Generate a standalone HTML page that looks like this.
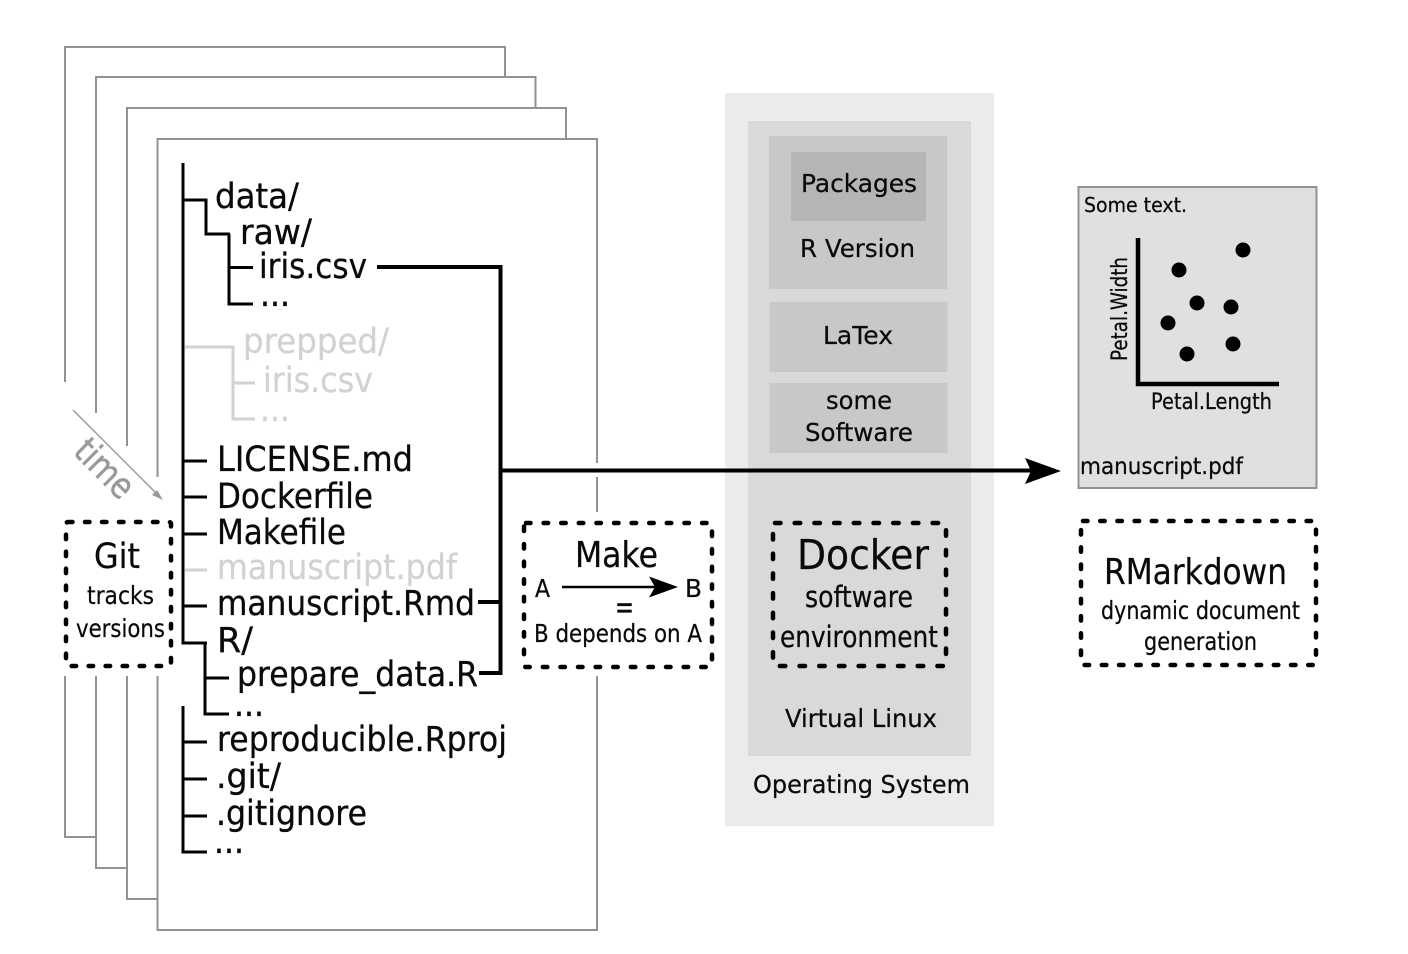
<!DOCTYPE html>
<html lang="en">
<head>
<meta charset="utf-8">
<title>Reproducible workflow diagram</title>
<style>
html,body{margin:0;padding:0;background:#fff;}
svg{display:block;}
text{font-family:"DejaVu Sans","Liberation Sans",sans-serif;fill:#0a0a0a;stroke:#0a0a0a;stroke-width:.25px;}
.t{font-size:35px;stroke-width:.3px;}
.g{font-size:35px;fill:#d2d2d2;stroke:#d2d2d2;stroke-width:.3px;}
.m{font-size:25px;}
.s{font-size:22px;}
</style>
</head>
<body>
<svg xmlns="http://www.w3.org/2000/svg" width="1408" height="954" viewBox="0 0 1408 954">
<rect width="1408" height="954" fill="#fff"/>

<!-- stacked pages -->
<g fill="none" stroke="#929292" stroke-width="2">
<path d="M65 382V47H505V77"/>
<path d="M65 676V837H96"/>
<path d="M96 413V77H535.500V108"/>
<path d="M96 676V868H127"/>
<path d="M127 446V108H566V139"/>
<path d="M127 676V899H157.500"/>
<path d="M157.500 477V139H597V463"/>
<path d="M597 477V512"/>
<path d="M157.500 676V930H597V676"/>
</g>

<!-- time arrow -->
<path d="M73 410L161 498" stroke="#999" stroke-width="1.500" fill="none"/>
<path d="M163 500L152 495L157 490Z" fill="#999"/>
<text transform="translate(72 453) rotate(45)" font-size="36" style="fill:#999;stroke:#999;stroke-width:.5px" textLength="68" lengthAdjust="spacingAndGlyphs">time</text>

<!-- tree -->
<g fill="none" stroke="#000" stroke-width="3">
<path d="M183 163V643H207"/>
<path d="M183 200H206V234H230"/>
<path d="M229 234V304H253"/>
<path d="M229 267.500H253"/>
<path d="M183 461H207M183 497H207M183 534H207M183 606H207"/>
<path d="M205 643V714H229M205 678H229"/>
<path d="M183 706V852H207M183 742H207M183 779H207M183 816H207"/>
</g>
<g fill="none" stroke="#d2d2d2" stroke-width="3">
<path d="M185 347H233V419H255M233 383H255"/>
<path d="M185 570H207"/>
</g>

<!-- dependency lines -->
<g fill="none" stroke="#000" stroke-width="4">
<path d="M377 267H500.500V673H479"/>
<path d="M478 602H500"/>
<path d="M500 470.500H1035"/>
</g>

<!-- tree labels -->
<text class="t" x="215" y="208" textLength="84" lengthAdjust="spacingAndGlyphs">data/</text>
<text class="t" x="240" y="244" textLength="72" lengthAdjust="spacingAndGlyphs">raw/</text>
<text class="t" x="259" y="278" textLength="108" lengthAdjust="spacingAndGlyphs">iris.csv</text>
<text class="t" x="260" y="306" textLength="30" lengthAdjust="spacingAndGlyphs">...</text>
<text class="g" x="243" y="353" textLength="146" lengthAdjust="spacingAndGlyphs">prepped/</text>
<text class="g" x="263" y="392" textLength="110" lengthAdjust="spacingAndGlyphs">iris.csv</text>
<text class="g" x="260" y="421" textLength="30" lengthAdjust="spacingAndGlyphs">...</text>
<text class="t" x="217" y="471" textLength="196" lengthAdjust="spacingAndGlyphs">LICENSE.md</text>
<text class="t" x="217" y="508" textLength="156" lengthAdjust="spacingAndGlyphs">Dockerfile</text>
<text class="t" x="217" y="544" textLength="129" lengthAdjust="spacingAndGlyphs">Makefile</text>
<text class="g" x="217" y="579" textLength="240" lengthAdjust="spacingAndGlyphs">manuscript.pdf</text>
<text class="t" x="217" y="615" textLength="258" lengthAdjust="spacingAndGlyphs">manuscript.Rmd</text>
<text class="t" x="217" y="652" textLength="36" lengthAdjust="spacingAndGlyphs">R/</text>
<text class="t" x="237" y="686" textLength="241" lengthAdjust="spacingAndGlyphs">prepare_data.R</text>
<text class="t" x="234" y="716" textLength="30" lengthAdjust="spacingAndGlyphs">...</text>
<text class="t" x="217" y="751" textLength="290" lengthAdjust="spacingAndGlyphs">reproducible.Rproj</text>
<text class="t" x="216" y="788" textLength="65" lengthAdjust="spacingAndGlyphs">.git/</text>
<text class="t" x="216" y="825" textLength="151" lengthAdjust="spacingAndGlyphs">.gitignore</text>
<text class="t" x="214" y="853" textLength="30" lengthAdjust="spacingAndGlyphs">...</text>

<!-- git box -->
<rect x="66" y="522" width="105" height="144" rx="2" fill="#fff" stroke="#000" stroke-width="4.500" stroke-linecap="round" stroke-dasharray="4.500 12.500"/>
<text x="94" y="568" font-size="35" textLength="46" lengthAdjust="spacingAndGlyphs">Git</text>
<text class="m" x="87" y="604" textLength="67" lengthAdjust="spacingAndGlyphs">tracks</text>
<text class="m" x="76" y="637" textLength="89" lengthAdjust="spacingAndGlyphs">versions</text>

<!-- make box -->
<rect x="524" y="523" width="188" height="144" rx="2" fill="#fff" stroke="#000" stroke-width="4.500" stroke-linecap="round" stroke-dasharray="4.500 13.100"/>
<text x="575" y="567" font-size="36" textLength="83" lengthAdjust="spacingAndGlyphs">Make</text>
<text class="m" x="535" y="597" textLength="15" lengthAdjust="spacingAndGlyphs">A</text>
<text class="m" x="685" y="597" textLength="17" lengthAdjust="spacingAndGlyphs">B</text>
<path d="M562 587H660" stroke="#000" stroke-width="2.500" fill="none"/>
<path d="M678 587L649 576.500L655 587L649 597.500Z" fill="#000"/>
<text x="615" y="618" font-size="32" textLength="19" lengthAdjust="spacingAndGlyphs">=</text>
<text class="m" x="534" y="642" textLength="168" lengthAdjust="spacingAndGlyphs">B depends on A</text>

<!-- stack -->
<rect x="725" y="93" width="269" height="733" fill="#ebebeb"/>
<rect x="748" y="121" width="223" height="635" fill="#d9d9d9"/>
<rect x="769" y="136" width="178" height="153" fill="#c8c8c8"/>
<rect x="791" y="152" width="135" height="69" fill="#b5b5b5"/>
<rect x="769.500" y="302" width="178" height="70" fill="#c8c8c8"/>
<rect x="769.500" y="383" width="178" height="70" fill="#c8c8c8"/>
<path d="M725 470.500H1035" stroke="#000" stroke-width="4" fill="none"/>
<text class="m" x="801" y="192" textLength="116" lengthAdjust="spacingAndGlyphs">Packages</text>
<text class="m" x="800" y="257" textLength="115" lengthAdjust="spacingAndGlyphs">R Version</text>
<text class="m" x="823" y="344" textLength="70" lengthAdjust="spacingAndGlyphs">LaTex</text>
<text class="m" x="826" y="409" textLength="66" lengthAdjust="spacingAndGlyphs">some</text>
<text class="m" x="805" y="441" textLength="108" lengthAdjust="spacingAndGlyphs">Software</text>
<text class="m" x="785" y="727" textLength="152" lengthAdjust="spacingAndGlyphs">Virtual Linux</text>
<text class="m" x="753" y="793" textLength="217" lengthAdjust="spacingAndGlyphs">Operating System</text>

<!-- docker box -->
<rect x="773" y="523" width="173" height="143" rx="2" fill="none" stroke="#000" stroke-width="4.500" stroke-linecap="round" stroke-dasharray="5.500 14.200"/>
<text x="797" y="569" font-size="41" textLength="132" lengthAdjust="spacingAndGlyphs">Docker</text>
<text x="805" y="607" font-size="29" textLength="108" lengthAdjust="spacingAndGlyphs">software</text>
<text x="780" y="647" font-size="29" textLength="158" lengthAdjust="spacingAndGlyphs">environment</text>

<!-- main arrow head -->
<path d="M1061 471L1025 458L1031 471L1025 484Z" fill="#000"/>

<!-- pdf -->
<rect x="1078.500" y="187" width="238" height="301" fill="#e0e0e0" stroke="#929292" stroke-width="2"/>
<text x="1084" y="212" font-size="20" textLength="103" lengthAdjust="spacingAndGlyphs">Some text.</text>
<path d="M1138 238V384H1279" fill="none" stroke="#000" stroke-width="4.500"/>
<g fill="#000">
<circle cx="1243" cy="250" r="7.500"/>
<circle cx="1179" cy="270" r="7.500"/>
<circle cx="1197" cy="303" r="7.500"/>
<circle cx="1231" cy="307" r="7.500"/>
<circle cx="1168" cy="323" r="7.500"/>
<circle cx="1233" cy="344" r="7.500"/>
<circle cx="1187" cy="354" r="7.500"/>
</g>
<text class="s" transform="translate(1127 361) rotate(-90)" textLength="104" lengthAdjust="spacingAndGlyphs">Petal.Width</text>
<text class="s" x="1151" y="409" textLength="121" lengthAdjust="spacingAndGlyphs">Petal.Length</text>
<text x="1080" y="474" font-size="23" textLength="163" lengthAdjust="spacingAndGlyphs">manuscript.pdf</text>

<!-- rmarkdown box -->
<rect x="1081" y="521" width="235" height="144" rx="2" fill="#fff" stroke="#000" stroke-width="4.500" stroke-linecap="round" stroke-dasharray="4.500 12.700"/>
<text x="1104" y="584" font-size="36" textLength="183" lengthAdjust="spacingAndGlyphs">RMarkdown</text>
<text class="m" x="1101" y="619" textLength="199" lengthAdjust="spacingAndGlyphs">dynamic document</text>
<text class="m" x="1144" y="650" textLength="113" lengthAdjust="spacingAndGlyphs">generation</text>
</svg>
</body>
</html>
